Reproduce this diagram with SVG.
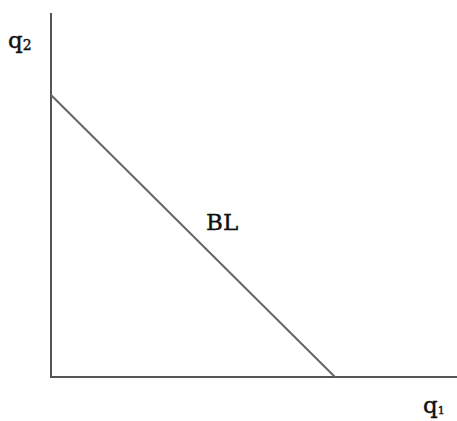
<svg xmlns="http://www.w3.org/2000/svg" width="457" height="421" viewBox="0 0 457 421">
<style>
.ax{stroke:#555;stroke-width:2;fill:none}
.ln{stroke:#666;stroke-width:2;fill:none}
.t{font-family:"DejaVu Serif","Liberation Serif",serif;fill:#111;stroke:#111;stroke-width:0.4}
</style>
<rect width="457" height="421" fill="#fff"/>
<g id="connectors">
<path class="ax" d="M51,13 V377 H457"/>
<path id="BL-line" class="ln" d="M51,95 L335,377"/>
</g>
<g id="label-q2"><text class="t" x="8" y="48" font-size="23">q<tspan font-size="14" dy="2">2</tspan></text></g>
<g id="label-q1"><text class="t" x="423" y="413" font-size="23">q<tspan font-size="11" dy="1">1</tspan></text></g>
<g id="label-BL"><text class="t" x="206" y="230" font-size="23">BL</text></g>
</svg>
